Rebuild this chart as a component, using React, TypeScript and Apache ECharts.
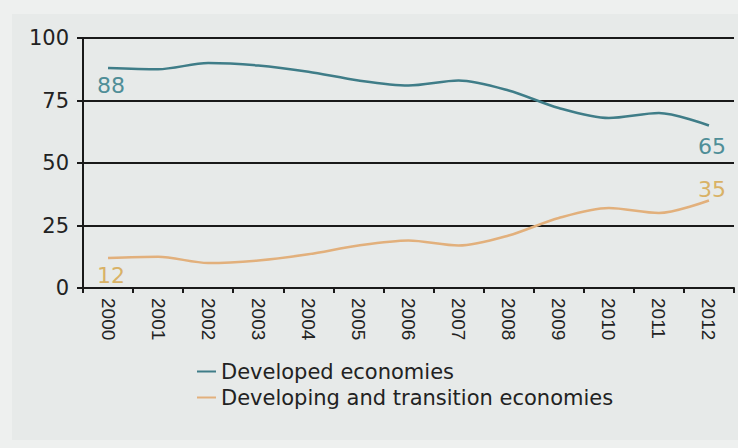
import React, { useEffect, useRef } from "react";
import * as echarts from "echarts";

const years = ["2000","2001","2002","2003","2004","2005","2006","2007","2008","2009","2010","2011","2012"];
const developed = [88, 87.5, 90, 89, 86.5, 83, 81, 83, 79, 72, 68, 70, 65];
const developing = [12, 12.5, 10, 11, 13.5, 17, 19, 17, 21, 28, 32, 30, 35];
const seriesNames = ["Developed economies", "Developing and transition economies"];
const yTicks = [0, 25, 50, 75, 100];

const DEV_COLOR = "#3f7d88";
const DEVG_COLOR = "#e2b07c";

function withEndLabels(
  values: number[],
  color: string,
  firstPos: string,
  lastPos: string,
  firstOffset: number[],
  lastOffset: number[]
) {
  return values.map((v, i) => {
    if (i === 0 || i === values.length - 1) {
      const first = i === 0;
      return {
        value: v,
        label: {
          show: true,
          position: first ? firstPos : lastPos,
          offset: first ? firstOffset : lastOffset,
          formatter: String(Math.round(v)),
          color,
          fontSize: 22,
          fontFamily: "DejaVu Sans",
          distance: 5,
        },
      };
    }
    return v;
  });
}

export default function App() {
  const ref = useRef<HTMLDivElement>(null);
  useEffect(() => {
    if (!ref.current) return;
    const chart = echarts.init(ref.current, null, { renderer: "svg" });
    chart.setOption({
      animation: false,
      backgroundColor: "#eef0ef",
      graphic: [
        {
          type: "rect",
          shape: { x: 12, y: 14, width: 726, height: 426 },
          style: { fill: "#e7eae9" },
          z: -10,
          silent: true,
        },
      ],
      grid: { left: 83, right: 4, top: 38, bottom: 160 },
      legend: {
        orient: "vertical",
        left: 197,
        top: 361,
        padding: 0,
        itemGap: 5,
        itemWidth: 19,
        itemHeight: 2,
        icon: "rect",
        data: seriesNames,
        textStyle: { fontSize: 21, fontFamily: "DejaVu Sans", color: "#222" },
      },
      xAxis: {
        type: "category",
        data: years,
        boundaryGap: true,
        axisLine: { show: true, lineStyle: { color: "#1a1a1a", width: 2 } },
        axisTick: { show: true, length: 5, lineStyle: { color: "#1a1a1a", width: 2 } },
        axisLabel: {
          rotate: -90,
          margin: 10,
          fontSize: 19,
          fontFamily: "Liberation Sans",
          color: "#222",
        },
      },
      yAxis: {
        type: "value",
        min: yTicks[0],
        max: yTicks[yTicks.length - 1],
        interval: 25,
        axisLine: { show: true, lineStyle: { color: "#1a1a1a", width: 2 } },
        axisTick: { show: true, length: 6, lineStyle: { color: "#1a1a1a", width: 2 } },
        splitLine: { show: true, lineStyle: { color: "#1a1a1a", width: 2 } },
        axisLabel: {
          margin: 14,
          fontSize: 21,
          fontFamily: "DejaVu Sans",
          color: "#222",
        },
      },
      series: [
        {
          name: seriesNames[0],
          type: "line",
          data: withEndLabels(developed, "#4f8e97", "bottom", "bottom", [3, 1], [3, 5]),
          color: DEV_COLOR,
          showSymbol: true,
          symbol: "circle",
          symbolSize: 0,
          smooth: 0.3,
          lineStyle: { width: 2.5, color: DEV_COLOR },
        },
        {
          name: seriesNames[1],
          type: "line",
          data: withEndLabels(developing, "#d9b266", "bottom", "top", [3, 1], [3, 5]),
          color: DEVG_COLOR,
          showSymbol: true,
          symbol: "circle",
          symbolSize: 0,
          smooth: 0.3,
          lineStyle: { width: 2.5, color: DEVG_COLOR },
        },
      ],
    });
    return () => chart.dispose();
  }, []);
  return <div ref={ref} style={{ width: 738, height: 448, position: "absolute", left: 0, top: 0 }} />;
}
